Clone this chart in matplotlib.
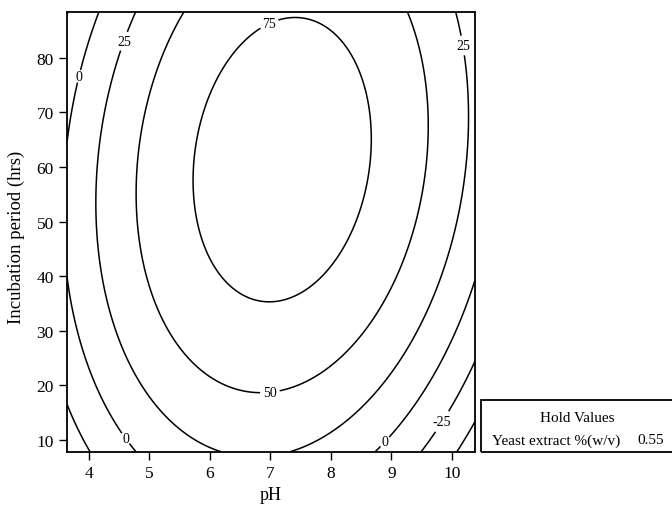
import numpy as np
import matplotlib
matplotlib.use("Agg")
import matplotlib.pyplot as plt
from matplotlib.patches import Rectangle

plt.rcParams['font.family'] = ['Liberation Serif', 'DejaVu Serif']

# Points: (pH, incubation hrs, contour level)
contour_ph = [5.71, 8.70, 7.50, 6.80, 5.84, 6.17, 8.15, 8.60, 8.54, 8.20, 7.71, 7.16, 6.12, 6.01, 5.76,
              5.56, 4.79, 4.85, 5.19, 5.84, 6.51, 7.22, 7.50, 8.27, 8.81, 9.26, 9.53, 9.63, 9.43, 9.26, 5.18, 4.85,
              4.81, 4.57, 4.36, 4.15, 4.16, 4.24, 4.57, 5.07, 6.06, 4.31, 4.11,
              7.46, 8.27, 8.98, 9.48, 9.92, 10.17, 10.27, 10.26, 10.04, 10.10,
              3.65, 3.90, 4.14, 4.49, 4.77, 4.16, 3.90, 3.73, 3.65,
              10.35, 10.02, 9.59, 9.09, 8.81,
              3.65, 4.00, 10.35, 10.09, 9.53,
              10.35, 10.13]
contour_hrs = [57.8, 63.3, 86.9, 34.5, 67.0, 77.9, 83.4, 73.0, 54.1, 44.4, 37.7, 35.1, 40.8, 73.7, 64.6,
               88.4, 54.1, 45.0, 32.7, 24.8, 18.8, 18.8, 19.7, 26.1, 34.0, 43.7, 54.1, 65.1, 83.4, 88.4, 79.2, 66.4,
               88.4, 83.1, 76.1, 60.2, 45.0, 37.1, 25.4, 17.0, 8.0, 72.5, 54.1,
               8.0, 15.7, 24.3, 33.4, 43.7, 54.1, 66.4, 72.5, 88.4, 50.5,
               39.9, 25.4, 19.3, 13.5, 8.0, 88.4, 78.5, 70.6, 65.1,
               38.0, 30.3, 21.7, 11.5, 8.0,
               16.6, 8.0, 23.0, 17.0, 8.4,
               12.4, 8.4]
contour_level = [75] * 15 + [50] * 17 + [25] * 11 + [25] * 10 + [0] * 9 + [0] * 5 + [-25] * 5 + [-50] * 2

levels = [-75, -50, -25, 0, 25, 50, 75]
x_ticks = [4, 5, 6, 7, 8, 9, 10]
y_ticks = [10, 20, 30, 40, 50, 60, 70, 80]
x_lim = (3.64, 10.38)
y_lim = (7.86, 88.4)

label_pos = [(3.81, 76.7), (4.57, 83.1), (7.0, 85.8), (10.14, 82.2), (7.0, 17.9),
             (4.57, 10.0), (8.92, 9.4), (9.85, 13.3)]

hold_title = "Hold Values"
hold_name = "Yeast extract %(w/v)"
hold_value = "0.55"

# Fit the second-order response surface to the read points
px = np.array(contour_ph)
py = np.array(contour_hrs)
pz = np.array(contour_level, dtype=float)
A = np.column_stack([np.ones_like(px), px, py, px**2, py**2, px * py])
coef, *_ = np.linalg.lstsq(A, pz, rcond=None)

gx = np.linspace(x_lim[0], x_lim[1], 300)
gy = np.linspace(y_lim[0], y_lim[1], 300)
X, Y = np.meshgrid(gx, gy)
Z = coef[0] + coef[1] * X + coef[2] * Y + coef[3] * X**2 + coef[4] * Y**2 + coef[5] * X * Y

fig = plt.figure(figsize=(6.72, 5.06), dpi=100)
ax = fig.add_axes([0.0997, 0.1053, 0.6071, 0.869])
cs = ax.contour(X, Y, Z, levels=levels, colors='black', linewidths=1.1, linestyles='solid')
texts = ax.clabel(cs, fmt='%d', fontsize=10, inline=True, inline_spacing=3, manual=label_pos)
for t in texts:
    t.set_rotation(0)

ax.set_xlim(*x_lim)
ax.set_ylim(*y_lim)
ax.set_xticks(x_ticks)
ax.set_yticks(y_ticks)
ax.tick_params(direction='out', length=6, width=1.0, labelsize=12.5, color='black')
for s in ax.spines.values():
    s.set_linewidth(1.3)
ax.set_xlabel('pH', fontsize=13, labelpad=4)
ax.set_ylabel('Incubation period (hrs)', fontsize=13.5)
ax.yaxis.set_label_coords(-0.103, 0.49)

# Hold values box
fig.patches.append(Rectangle((481 / 672, 1 - 452.7 / 506), 0.3, (452.7 - 400.7) / 506,
                             transform=fig.transFigure, fill=False, edgecolor='black', linewidth=1.3))
fig.text(577 / 672, 1 - 419 / 506, hold_title, ha='center', va='center', fontsize=11)
fig.text(492 / 672, 1 - 441 / 506, hold_name, ha='left', va='center', fontsize=11)
fig.text(637 / 672, 1 - 441 / 506, hold_value, ha='left', va='center', fontsize=11)

fig.savefig('out.png', dpi=100)
